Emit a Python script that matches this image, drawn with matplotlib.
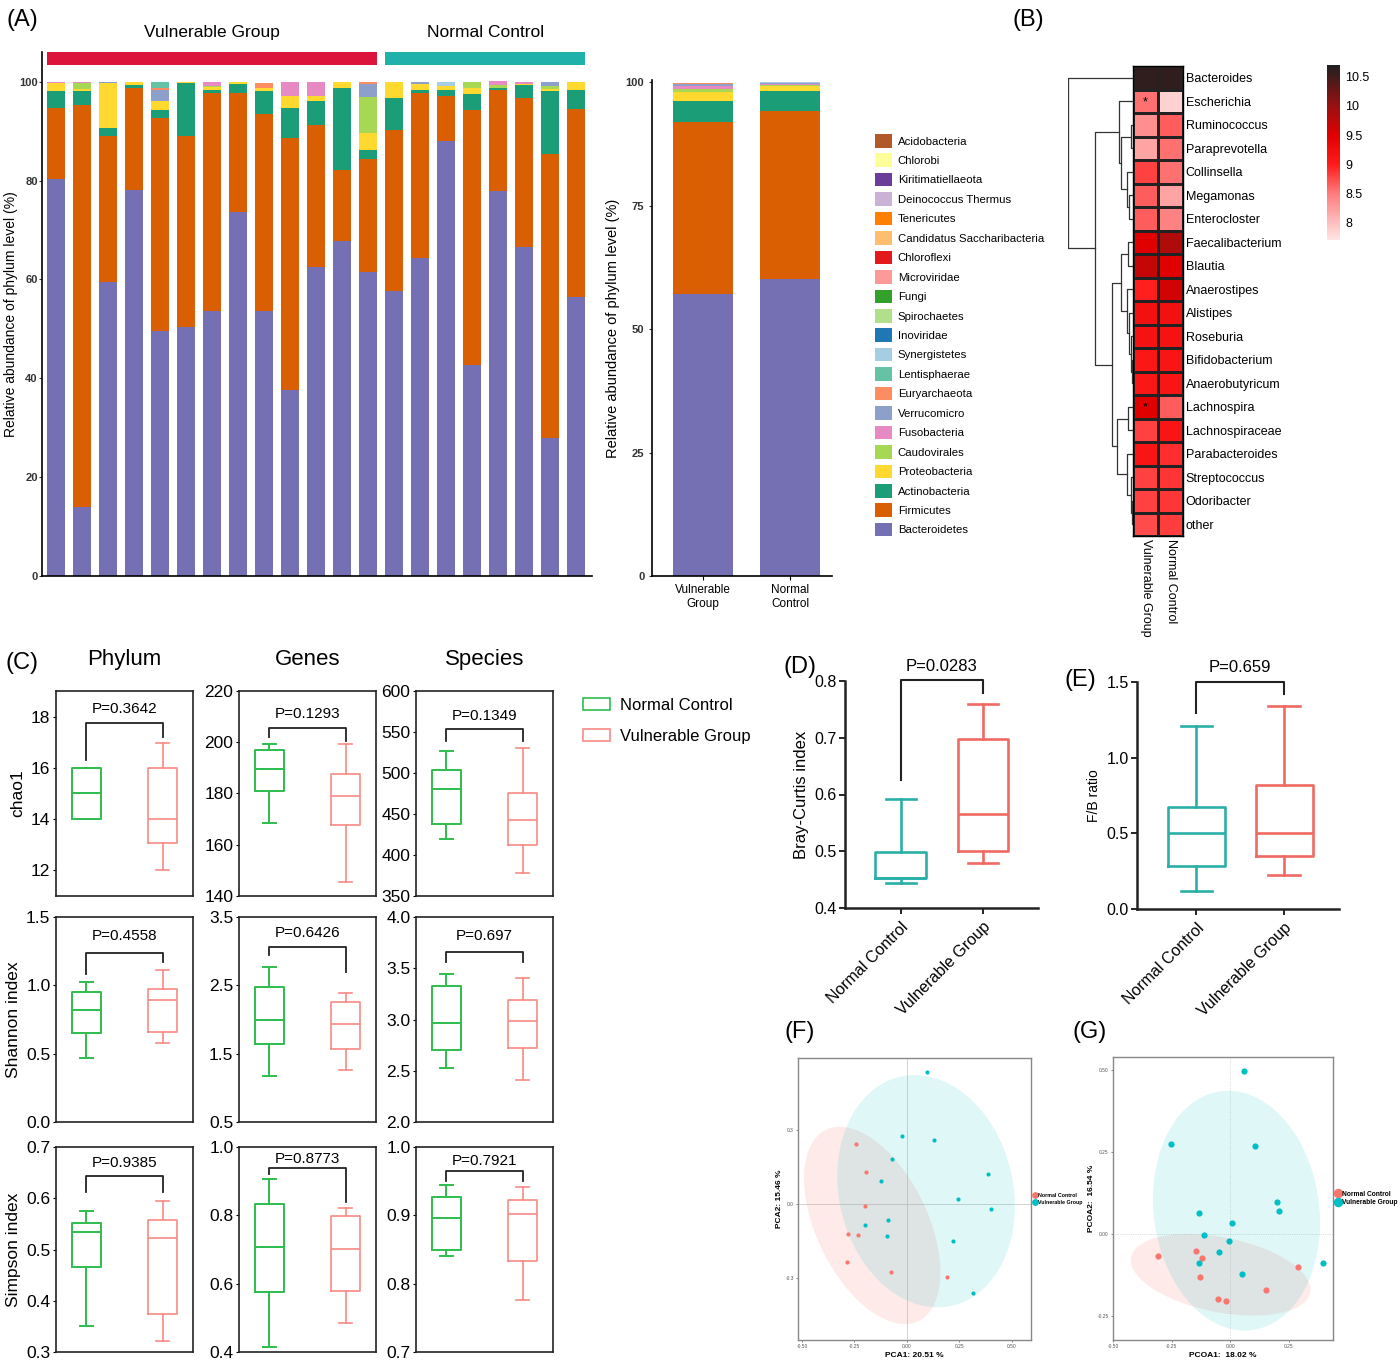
import numpy as np
import matplotlib
matplotlib.use("Agg")
import matplotlib.pyplot as plt
import matplotlib as mpl
from matplotlib.patches import Patch, Ellipse, Rectangle
from matplotlib.lines import Line2D
from matplotlib.colors import LinearSegmentedColormap, Normalize
from matplotlib.ticker import FormatStrFormatter

plt.rcParams['font.family'] = ['Liberation Sans', 'DejaVu Sans']

# -------------------------------------------
# (A) abondance relative par phylum (21 échantillons)
# -------------------------------------------
legend_phyla = ["Acidobacteria", "Chlorobi", "Kiritimatiellaeota", "Deinococcus Thermus",
                "Tenericutes", "Candidatus Saccharibacteria", "Chloroflexi", "Microviridae",
                "Fungi", "Spirochaetes", "Inoviridae", "Synergistetes", "Lentisphaerae",
                "Euryarchaeota", "Verrucomicro", "Fusobacteria", "Caudovirales",
                "Proteobacteria", "Actinobacteria", "Firmicutes", "Bacteroidetes"]
legend_colors = ["#B15928", "#FFFF99", "#6A3D9A", "#CAB2D6", "#FF7F00", "#FDBF6F", "#E31A1C",
                 "#FB9A99", "#33A02C", "#B2DF8A", "#1F78B4", "#A6CEE3", "#66C2A5", "#FC8D62",
                 "#8DA0CB", "#E78AC3", "#A6D854", "#FFD92F", "#1B9E77", "#D95F02", "#7570B3"]

n_vulnerable = 13   # 13 échantillons "Vulnerable Group", puis 8 "Normal Control"
bacteroidetes = [80.3, 14.0, 59.5, 78.0, 49.6, 50.3, 53.6, 73.6, 53.6, 37.7, 62.6, 67.7, 61.5,
                 57.6, 64.3, 88.0, 42.6, 77.8, 66.6, 28.0, 56.4]
firmicutes = [14.4, 81.3, 29.5, 20.8, 43.1, 38.7, 44.2, 24.2, 39.9, 50.9, 28.7, 14.5, 22.8,
              32.7, 33.5, 9.2, 51.6, 20.6, 30.1, 57.4, 38.0]
actinobacteria = [3.5, 2.8, 1.6, 0.5, 1.5, 10.8, 0.5, 1.7, 4.7, 6.0, 4.8, 16.6, 1.9,
                  6.4, 0.6, 1.2, 3.4, 0.3, 2.6, 12.8, 4.0]
proteobacteria = [1.6, 0.5, 9.1, 0.6, 1.9, 0.1, 0.6, 0.4, 0.6, 2.6, 0.9, 1.2, 3.5,
                  3.3, 1.1, 0.7, 1.2, 0.1, 0.3, 0.3, 1.6]
caudovirales = [0, 1.2, 0, 0, 0, 0, 0.3, 0, 0, 0, 0, 0, 7.1,
                0, 0, 0, 1.2, 0.5, 0, 0.6, 0]
fusobacteria = [0.2, 0.2, 0, 0, 0, 0, 0.8, 0, 0, 2.8, 3.0, 0, 0,
                0, 0, 0, 0, 0.8, 0.4, 0, 0]
verrucomicro = [0, 0, 0.3, 0, 2.2, 0, 0, 0, 0, 0, 0, 0, 2.7,
                0, 0.5, 0, 0, 0, 0, 0.9, 0]
euryarchaeota = [0, 0, 0, 0, 0.5, 0, 0, 0, 1.0, 0, 0, 0, 0.5,
                 0, 0, 0, 0, 0, 0, 0, 0]
lentisphaerae = [0, 0, 0, 0, 1.2, 0, 0, 0, 0, 0, 0, 0, 0,
                 0, 0, 0, 0, 0, 0, 0, 0]
synergistetes = [0, 0, 0, 0, 0, 0, 0, 0, 0, 0, 0, 0, 0,
                 0, 0, 0.9, 0, 0, 0, 0, 0]

stack_names = ["Bacteroidetes", "Firmicutes", "Actinobacteria", "Proteobacteria", "Caudovirales",
               "Fusobacteria", "Verrucomicro", "Euryarchaeota", "Lentisphaerae", "Synergistetes"]
stack_values = [bacteroidetes, firmicutes, actinobacteria, proteobacteria, caudovirales,
                fusobacteria, verrucomicro, euryarchaeota, lentisphaerae, synergistetes]
group_labels = ["Vulnerable\nGroup", "Normal\nControl"]

# -------------------------------------------
# (B) heatmap des genres
# -------------------------------------------
genera = ["Bacteroides", "Escherichia", "Ruminococcus", "Paraprevotella", "Collinsella",
          "Megamonas", "Enterocloster", "Faecalibacterium", "Blautia", "Anaerostipes",
          "Alistipes", "Roseburia", "Bifidobacterium", "Anaerobutyricum", "Lachnospira",
          "Lachnospiraceae", "Parabacteroides", "Streptococcus", "Odoribacter", "other"]
heat_vg = [10.6, 8.55, 8.35, 8.2, 8.8, 8.65, 8.65, 9.5, 9.7, 8.97,
           9.2, 9.15, 9.05, 9.05, 9.5, 8.8, 9.1, 8.8, 8.8, 8.75]
heat_nc = [10.6, 7.85, 8.65, 8.55, 8.55, 8.2, 8.45, 9.85, 9.5, 9.6,
           9.2, 9.15, 9.1, 9.1, 8.65, 9.1, 8.9, 8.87, 8.85, 8.82]
heat_columns = ["Vulnerable Group", "Normal Control"]
signif_vg = ["Escherichia", "Lachnospira"]
# arbre : [gauche, droite, hauteur] ; feuilles = indices des lignes
row_tree = [0, [[1, [[2, 3, 0.03], [4, [5, 6, 0.06], 0.10], 0.18], 0.21],
                [[[7, 8, 0.08], [9, [10, [11, [12, 13, 0.01], 0.03], 0.06], 0.09], 0.18],
                 [[14, 15, 0.08], [16, [17, [18, 19, 0.01], 0.03], 0.09], 0.25], 0.33], 0.58], 1.0]

# -------------------------------------------
# (C) diversité alpha : [min, q1, médiane, q3, max]
# -------------------------------------------
levels = ["Phylum", "Genes", "Species"]
chao1_nc = [[14, 14, 15, 16, 16], [168.5, 180.9, 189.4, 196.9, 199.4], [419.9, 438.2, 480.7, 504, 527.3]]
chao1_vg = [[12, 13.05, 14, 16, 16.97], [145.4, 167.8, 179, 187.7, 199.4], [377.8, 412.5, 442.7, 475.8, 530.6]]
shannon_nc = [[0.471, 0.649, 0.82, 0.951, 1.022], [1.178, 1.637, 2.0, 2.476, 2.763], [2.531, 2.705, 2.961, 3.325, 3.446]]
shannon_vg = [[0.576, 0.661, 0.893, 0.971, 1.112], [1.266, 1.573, 1.939, 2.256, 2.388], [2.41, 2.725, 2.99, 3.187, 3.407]]
simpson_nc = [[0.351, 0.466, 0.535, 0.552, 0.575], [0.415, 0.576, 0.706, 0.834, 0.907], [0.841, 0.850, 0.896, 0.927, 0.945]]
simpson_vg = [[0.321, 0.375, 0.522, 0.557, 0.594], [0.485, 0.580, 0.702, 0.797, 0.821], [0.776, 0.833, 0.902, 0.923, 0.941]]
chao1_p = ["P=0.3642", "P=0.1293", "P=0.1349"]
shannon_p = ["P=0.4558", "P=0.6426", "P=0.697"]
simpson_p = ["P=0.9385", "P=0.8773", "P=0.7921"]

# (D) Bray-Curtis, (E) F/B
bray_nc = [0.4435, 0.452, 0.453, 0.498, 0.592]
bray_vg = [0.48, 0.501, 0.566, 0.698, 0.760]
bray_p = "P=0.0283"
fb_nc = [0.119, 0.282, 0.504, 0.673, 1.21]
fb_vg = [0.222, 0.347, 0.499, 0.818, 1.344]
fb_p = "P=0.659"

# (F) PCA
pca_nc_x = [-0.243, -0.196, -0.201, -0.280, -0.232, -0.284, -0.075, 0.193]
pca_nc_y = [0.241, 0.130, -0.009, -0.120, -0.127, -0.236, -0.277, -0.297]
pca_vg_x = [0.099, -0.025, 0.132, -0.068, -0.123, 0.388, 0.245, 0.400, -0.091, -0.201, -0.092, 0.222, 0.314]
pca_vg_y = [0.535, 0.274, 0.259, 0.181, 0.091, 0.122, 0.018, -0.020, -0.065, -0.085, -0.128, -0.151, -0.361]
# (G) PCoA
pcoa_nc_x = [-0.307, -0.146, -0.119, -0.128, -0.053, -0.018, 0.155, 0.291]
pcoa_nc_y = [-0.065, -0.051, -0.071, -0.130, -0.197, -0.202, -0.170, -0.099]
pcoa_vg_x = [0.061, -0.254, 0.107, 0.200, 0.207, -0.131, 0.009, -0.111, -0.007, -0.047, -0.131, 0.050, 0.398]
pcoa_vg_y = [0.498, 0.276, 0.269, 0.099, 0.070, 0.066, 0.034, -0.002, -0.019, -0.053, -0.088, -0.121, -0.088]

# -------------------------------------------
# Figure
# -------------------------------------------
W, H = 1400, 1363
fig = plt.figure(figsize=(W / 100, H / 100), dpi=100)


def rect(l, t, r, b):
    return [l / W, 1 - b / H, (r - l) / W, (b - t) / H]


color_of = dict(zip(legend_phyla, legend_colors))

# ---- (A) gauche : échantillons
axA = fig.add_axes(rect(42, 52, 592, 576))
x = np.arange(len(bacteroidetes))
bottom = np.zeros(len(x))
for name, vals in zip(stack_names, stack_values):
    vals = np.array(vals)
    axA.bar(x, vals, bottom=bottom, width=0.69, color=color_of[name], linewidth=0)
    bottom += vals
axA.set_xlim(-0.54, 20.6)
axA.set_ylim(0, 106)
axA.set_yticks([0, 20, 40, 60, 80, 100])
axA.set_xticks([])
for s in ["top", "right"]:
    axA.spines[s].set_visible(False)
axA.spines["left"].set_linewidth(1.2)
axA.spines["bottom"].set_linewidth(1.2)
axA.tick_params(axis="y", labelsize=8, length=2, width=0.8, colors="#333333", pad=1)
for lab in axA.get_yticklabels():
    lab.set_fontweight("bold")
axA.set_ylabel("Relative abundance of phylum level (%)", fontsize=10, labelpad=1)
# barres de groupe
axA.add_patch(Rectangle((-0.345, 103.3), n_vulnerable - 1 + 0.69, 2.7, color="#DC143C",
                        clip_on=False, lw=0))
axA.add_patch(Rectangle((n_vulnerable - 0.345, 103.3), len(x) - n_vulnerable - 1 + 0.69, 2.7,
                        color="#20B2AA", clip_on=False, lw=0))
axA.text((n_vulnerable - 1) / 2, 110, "Vulnerable Group", ha="center", va="center", fontsize=12.5)
axA.text((n_vulnerable + len(x) - 1) / 2, 110, "Normal Control", ha="center", va="center", fontsize=12.5)

# ---- (A) droite : moyennes par groupe
axA2 = fig.add_axes(rect(652, 80, 832, 576))
gx = np.arange(2)
bottom = np.zeros(2)
for name, vals in zip(stack_names, stack_values):
    vals = np.array(vals)
    means = np.array([vals[:n_vulnerable].mean(), vals[n_vulnerable:].mean()])
    axA2.bar(gx, means, bottom=bottom, width=0.69, color=color_of[name], linewidth=0)
    bottom += means
axA2.set_xlim(-0.586, 1.48)
axA2.set_ylim(0, 100.5)
axA2.set_yticks([0, 25, 50, 75, 100])
axA2.set_xticks(gx)
axA2.set_xticklabels(group_labels, fontsize=8.5)
for s in ["top", "right"]:
    axA2.spines[s].set_visible(False)
axA2.spines["left"].set_linewidth(1.2)
axA2.spines["bottom"].set_linewidth(1.2)
axA2.tick_params(axis="y", labelsize=8, length=2, width=0.8, colors="#333333")
axA2.tick_params(axis="x", length=3, width=0.8, pad=3)
for lab in axA2.get_yticklabels():
    lab.set_fontweight("bold")
axA2.set_ylabel("Relative abundance of phylum level (%)", fontsize=10.5, labelpad=4)

handles = [Patch(facecolor=c, edgecolor="none") for c in legend_colors]
fig.legend(handles, legend_phyla, loc="upper left", bbox_to_anchor=(875 / W, 1 - 134 / H),
           frameon=False, fontsize=8.2, handlelength=1.5, handleheight=1.45,
           labelspacing=0.52, handletextpad=0.5, borderaxespad=0, borderpad=0)

# ---- (B) heatmap + dendrogramme
heat_cmap = LinearSegmentedColormap.from_list(
    "heat", [(0.0, "#FFE4E4"), (0.1, "#FFBDBD"), (0.267, "#FF7A7A"), (0.433, "#FF1A1A"),
             (0.6, "#E00000"), (0.767, "#9A1010"), (1.0, "#202020")])
heat_norm = Normalize(7.7, 10.7)

axH = fig.add_axes(rect(1133, 66, 1183, 536))
mat = np.column_stack([heat_vg, heat_nc])
axH.pcolormesh(mat, cmap=heat_cmap, norm=heat_norm, edgecolors="#222222", linewidth=0.9)
axH.set_ylim(len(genera), 0)
axH.set_xlim(0, 2)
axH.yaxis.tick_right()
axH.set_yticks(np.arange(len(genera)) + 0.5)
axH.set_yticklabels(genera, fontsize=9)
axH.set_xticks([0.5, 1.5])
axH.set_xticklabels(heat_columns, rotation=-90, fontsize=9, va="top")
axH.tick_params(length=0, pad=2)
for s in axH.spines.values():
    s.set_linewidth(1.0)
for g in signif_vg:
    axH.text(0.5, genera.index(g) + 0.55, "*", ha="center", va="center", fontsize=9)

axD0 = fig.add_axes(rect(1068, 66, 1133, 536))


def draw_tree(ax, node):
    if isinstance(node, int):
        return node + 0.5, 0.0
    left, right, h = node
    yl, hl = draw_tree(ax, left)
    yr, hr = draw_tree(ax, right)
    ax.plot([hl, h, h, hr], [yl, yl, yr, yr], color="#333333", lw=0.9)
    return (yl + yr) / 2, h


draw_tree(axD0, row_tree)
axD0.set_xlim(1.0, 0)
axD0.set_ylim(len(genera), 0)
axD0.axis("off")

cax = fig.add_axes(rect(1327, 65, 1340, 240))
cb = mpl.colorbar.ColorbarBase(cax, cmap=heat_cmap, norm=heat_norm)
cb.outline.set_visible(False)
cb.set_ticks([8, 8.5, 9, 9.5, 10, 10.5])
cb.set_ticklabels(["8", "8.5", "9", "9.5", "10", "10.5"])
cax.tick_params(length=0, labelsize=9, pad=4)

# ---- (C) diversité alpha
green = "#2EBD4E"
salmon = "#F88A84"
col_left = [56, 239, 416]
col_w = 137
row_top = [691, 917, 1147]
row_h = 205
rows_nc = [chao1_nc, shannon_nc, simpson_nc]
rows_vg = [chao1_vg, shannon_vg, simpson_vg]
rows_p = [chao1_p, shannon_p, simpson_p]
row_names = ["chao1", "Shannon index", "Simpson index"]
ylims = [[(11, 19), (140, 220), (350, 600)],
         [(0, 1.5), (0.5, 3.5), (2.0, 4.0)],
         [(0.3, 0.7), (0.4, 1.0), (0.7, 1.0)]]
yticks = [[[12, 14, 16, 18], [140, 160, 180, 200, 220], [350, 400, 450, 500, 550, 600]],
          [[0, 0.5, 1.0, 1.5], [0.5, 1.5, 2.5, 3.5], [2.0, 2.5, 3.0, 3.5, 4.0]],
          [[0.3, 0.4, 0.5, 0.6, 0.7], [0.4, 0.6, 0.8, 1.0], [0.7, 0.8, 0.9, 1.0]]]
# crochets : (hauteur, jambe gauche, jambe droite, texte)
brackets = [[(17.76, 16.3, 17.2, 18.28), (205.6, 202, 200.3, 211.2), (553.8, 538.7, 538.7, 570)],
            [(1.24, 1.085, 1.17, 1.36), (3.06, 2.95, 2.69, 3.27), (3.656, 3.56, 3.56, 3.81)],
            [(0.643, 0.612, 0.612, 0.669), (0.9395, 0.922, 0.839, 0.964), (0.965, 0.950, 0.950, 0.980)]]


def draw_box(ax, five, pos, color, width, capw, lw):
    s = dict(whislo=five[0], q1=five[1], med=five[2], q3=five[3], whishi=five[4])
    props = dict(color=color, linewidth=lw)
    ax.bxp([s], positions=[pos], widths=width, capwidths=capw, showfliers=False,
           boxprops=props, whiskerprops=props, capprops=props, medianprops=props)


for r in range(3):
    for c in range(3):
        ax = fig.add_axes(rect(col_left[c], row_top[r], col_left[c] + col_w, row_top[r] + row_h))
        draw_box(ax, rows_nc[r][c], 1, green, 0.38, 0.17, 1.4)
        draw_box(ax, rows_vg[r][c], 2, salmon, 0.38, 0.17, 1.2)
        ax.set_xlim(0.6, 2.4)
        ax.set_ylim(*ylims[r][c])
        ax.set_yticks(yticks[r][c])
        if r > 0:
            ax.yaxis.set_major_formatter(FormatStrFormatter("%.1f"))
        ax.set_xticks([])
        ax.tick_params(axis="y", labelsize=12.5, length=2, pad=2)
        for s in ax.spines.values():
            s.set_linewidth(1.2)
            s.set_color("#222222")
        by, bl, br, ty = brackets[r][c]
        ax.plot([1, 1, 2, 2], [bl, by, by, br], color="#222222", lw=1.3)
        ax.text(1.5, ty, rows_p[r][c], ha="center", va="center", fontsize=11)
        if c == 0:
            ax.set_ylabel(row_names[r], fontsize=12.5, labelpad=4)
        if r == 0:
            ax.set_title(levels[c], fontsize=16, pad=19)

fig.legend([Patch(facecolor="none", edgecolor=green, lw=1.2),
            Patch(facecolor="none", edgecolor=salmon, lw=1.2)],
           ["Normal Control", "Vulnerable Group"], loc="upper left",
           bbox_to_anchor=(583 / W, 1 - 698 / H), frameon=False, fontsize=12,
           handlelength=1.6, handleheight=0.7, labelspacing=0.95, handletextpad=0.65,
           borderaxespad=0, borderpad=0)

# ---- (D) et (E)
teal = "#2AAFA8"
red2 = "#F06A64"


def group_box(ax, nc, vg, width, ylim, yticks_, p, bar, ylabel, ylabel_fs):
    draw_box(ax, nc, 0, teal, width, 0.36, 1.9)
    draw_box(ax, vg, 1, red2, width, 0.36, 1.9)
    ax.set_ylim(*ylim)
    ax.set_yticks(yticks_)
    ax.yaxis.set_major_formatter(FormatStrFormatter("%.1f"))
    ax.set_xticks([0, 1])
    ax.set_xticklabels(["Normal Control", "Vulnerable Group"], rotation=45, ha="right",
                       rotation_mode="anchor", fontsize=11.5)
    ax.tick_params(axis="y", labelsize=11.5, length=4, width=1.2, pad=2)
    ax.tick_params(axis="x", length=4, width=1.2, pad=4)
    for s in ["top", "right"]:
        ax.spines[s].set_visible(False)
    for s in ["left", "bottom"]:
        ax.spines[s].set_linewidth(1.8)
        ax.spines[s].set_color("#222222")
    by, bl, br, ty = bar
    ax.plot([0, 0, 1, 1], [bl, by, by, br], color="#222222", lw=1.5, clip_on=False)
    ax.text(0.5, ty, p, ha="center", va="center", fontsize=12)
    ax.set_ylabel(ylabel, fontsize=ylabel_fs, labelpad=4)


axDd = fig.add_axes(rect(845, 681, 1038, 908))
axDd.set_xlim(-0.68, 1.67)
group_box(axDd, bray_nc, bray_vg, 0.62, (0.4, 0.8), [0.4, 0.5, 0.6, 0.7, 0.8], bray_p,
          (0.802, 0.625, 0.779, 0.826), "Bray-Curtis index", 12)

axE = fig.add_axes(rect(1137, 682, 1339, 909))
axE.set_xlim(-0.676, 1.625)
group_box(axE, fb_nc, fb_vg, 0.65, (0, 1.5), [0.0, 0.5, 1.0, 1.5], fb_p,
          (1.498, 1.298, 1.42, 1.597), "F/B ratio", 10)

# ---- (F) et (G)
c_nc = "#F8766D"
c_vg = "#00BFC4"


def conf_ellipse(ax, xs, ys, color, alpha, k=2.05):
    xs, ys = np.asarray(xs), np.asarray(ys)
    vals, vecs = np.linalg.eigh(np.cov(xs, ys))
    order = vals.argsort()[::-1]
    vals, vecs = vals[order], vecs[:, order]
    angle = np.degrees(np.arctan2(vecs[1, 0], vecs[0, 0]))
    w, h = 2 * k * np.sqrt(vals)
    ax.add_patch(Ellipse((xs.mean(), ys.mean()), w, h, angle=angle, facecolor=color,
                         alpha=alpha, edgecolor="none", zorder=1))


def ordination(ax, nc_x, nc_y, vg_x, vg_y, xlim, ylim, xt, xtl, yt, ytl, xl, yl, ms, grid_ls,
               leg_fs):
    conf_ellipse(ax, nc_x, nc_y, c_nc, 0.15)
    conf_ellipse(ax, vg_x, vg_y, c_vg, 0.12)
    ax.axhline(0, color="#cccccc", lw=0.6, ls=grid_ls, zorder=0)
    ax.axvline(0, color="#cccccc", lw=0.6, ls=grid_ls, zorder=0)
    ax.scatter(nc_x, nc_y, s=ms, color=c_nc, zorder=3, linewidths=0)
    ax.scatter(vg_x, vg_y, s=ms, color=c_vg, zorder=3, linewidths=0)
    ax.set_xlim(*xlim)
    ax.set_ylim(*ylim)
    ax.set_xticks(xt)
    ax.set_xticklabels(xtl)
    ax.set_yticks(yt)
    ax.set_yticklabels(ytl)
    ax.tick_params(labelsize=3.5, length=1.5, width=0.5, pad=1.5, colors="#555555")
    for s in ax.spines.values():
        s.set_color("#888888")
        s.set_linewidth(1.0)
    ax.set_xlabel(xl, fontsize=6, fontweight="bold", labelpad=2)
    ax.set_ylabel(yl, fontsize=6, fontweight="bold", labelpad=2)
    hs = [Line2D([], [], ls="none", marker="o", color=c_nc, markersize=ms ** 0.5 * 1.3),
          Line2D([], [], ls="none", marker="o", color=c_vg, markersize=ms ** 0.5 * 1.3)]
    leg = ax.legend(hs, ["Normal Control", "Vulnerable Group"], loc="center left",
                    bbox_to_anchor=(1.0, 0.5), frameon=False, fontsize=leg_fs,
                    handlelength=0.6, handletextpad=0.2, labelspacing=0.3, borderaxespad=0.1)
    for t in leg.get_texts():
        t.set_fontweight("bold")


axF = fig.add_axes(rect(798, 1058, 1031, 1340))
ordination(axF, pca_nc_x, pca_nc_y, pca_vg_x, pca_vg_y, (-0.519, 0.593), (-0.551, 0.591),
           [-0.5, -0.25, 0, 0.25, 0.5], ["-0.50", "-0.25", "0.00", "0.25", "0.50"],
           [-0.3, 0, 0.3], ["-0.3", "0.0", "0.3"], "PCA1: 20.51 %", "PCA2: 15.46 %", 9, "-", 3.8)

axG = fig.add_axes(rect(1113, 1057, 1333, 1340))
ordination(axG, pcoa_nc_x, pcoa_nc_y, pcoa_vg_x, pcoa_vg_y, (-0.493, 0.439), (-0.322, 0.541),
           [-0.5, -0.25, 0, 0.25], ["-0.50", "-0.25", "0.00", "0.25"],
           [-0.25, 0, 0.25, 0.5], ["-0.25", "0.00", "0.25", "0.50"],
           "PCOA1:  18.02 %", "PCOA2:  16.54 %", 20, ":", 4.8)

# ---- étiquettes des panneaux
for lab, px, py in [("(A)", 22, 20), ("(B)", 1028, 20), ("(C)", 22, 663), ("(D)", 800, 667),
                    ("(E)", 1080, 680), ("(F)", 800, 1032), ("(G)", 1090, 1032)]:
    fig.text(px / W, 1 - py / H, lab, fontsize=17, ha="center", va="center")

fig.savefig("out.png", dpi=100)
